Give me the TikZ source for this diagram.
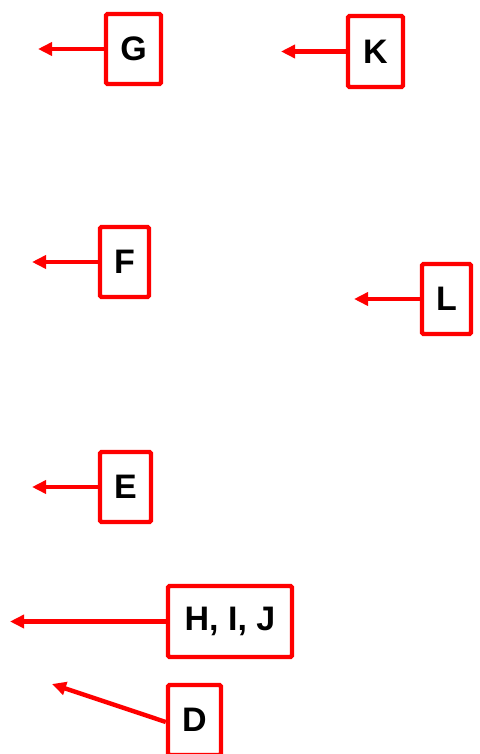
\documentclass[tikz,border=0pt]{standalone}
\usepackage{fontspec}
\setmainfont{Liberation Sans}
\usetikzlibrary{arrows.meta}
\begin{document}
\begin{tikzpicture}[x=1pt,y=-1pt,
  lbl/.style={draw=red,line width=4.4pt,rounded corners=1.5pt,fill=white,inner sep=0pt,
    font=\fontsize{34}{38}\selectfont\bfseries},
  ptr/.style={draw=red,line width=4.4pt,-{Triangle[length=14pt,width=13pt]}}]
\useasboundingbox (0,0) rectangle (479,754);
\begin{scope}
\clip (0,0) rectangle (479,754);
\node[lbl,minimum width=55pt,minimum height=70pt] (G) at (133.5,49) {G};
\node[lbl,minimum width=55pt,minimum height=71pt] (K) at (375.5,51.5) {K};
\node[lbl,minimum width=49pt,minimum height=70pt] (F) at (124.5,262) {F};
\node[lbl,minimum width=49pt,minimum height=70pt] (L) at (446.5,299) {L};
\node[lbl,minimum width=51pt,minimum height=70pt] (E) at (125.5,487) {E};
\node[lbl,minimum width=124pt,minimum height=71pt] (HIJ) at (230,621.5) {H, I, J};
\node[lbl,minimum width=53pt,minimum height=70pt] (D) at (194.5,720) {D};
\coordinate (tG) at (38,49);
\coordinate (tK) at (281,51.5);
\coordinate (tF) at (32,262);
\coordinate (tL) at (354,299);
\coordinate (tE) at (32,487);
\coordinate (tHIJ) at (10,621.5);
\coordinate (tD) at (52,684);
\draw[ptr] (G.west) -- (tG);
\draw[ptr] (K.west) -- (tK);
\draw[ptr] (F.west) -- (tF);
\draw[ptr] (L.west) -- (tL);
\draw[ptr] (E.west) -- (tE);
\draw[ptr] (HIJ.west) -- (tHIJ);
\draw[ptr] ([yshift=-2pt]D.west) -- (tD);
\end{scope}
\end{tikzpicture}
\end{document}
